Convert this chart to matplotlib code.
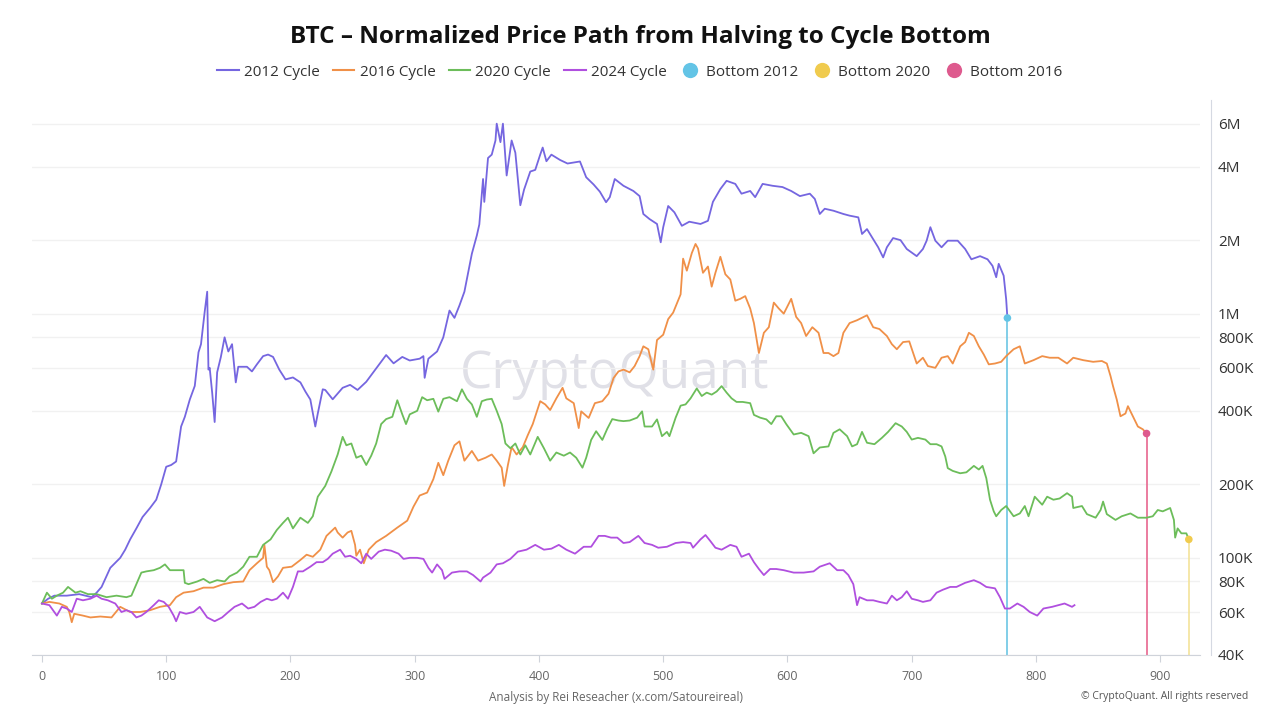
import matplotlib
matplotlib.use('Agg')
import matplotlib.pyplot as plt
from matplotlib.lines import Line2D
from matplotlib.ticker import FixedLocator, FixedFormatter, NullLocator

plt.rcParams['font.family'] = ['Open Sans', 'DejaVu Sans']

# days since halving / normalized price in K USD
days_2012 = [0, 5, 10, 20, 30, 40, 44, 48, 55, 63, 67, 71, 76, 81, 87, 92, 96, 100, 104, 108,
             112, 115, 119, 123, 126, 128, 131, 133, 134, 135, 137, 139, 141, 144, 147, 150, 153, 156, 158, 165,
             169, 173, 178, 182, 186, 191, 196, 202, 208, 212, 216, 220, 222, 226, 228, 234, 242, 248, 254, 261,
             268, 277, 283, 290, 296, 304, 307, 308, 311, 318, 323, 328, 332, 336, 340, 346, 350, 352, 355, 356,
             359, 362, 365, 366, 369, 371, 374, 378, 381, 383, 385, 388, 393, 397, 401, 403, 406, 410, 417, 423,
             433, 438, 444, 449, 454, 457, 461, 468, 476, 481, 484, 489, 495, 498, 500, 504, 509, 515, 521, 530,
             536, 540, 546, 551, 558, 563, 570, 574, 580, 588, 596, 603, 610, 618, 622, 626, 630, 637, 645, 650,
             657, 660, 664, 669, 673, 677, 680, 685, 691, 696, 704, 709, 712, 715, 719, 724, 729, 737, 743, 748,
             755, 761, 765, 768, 770, 774, 776, 777]
vals_2012 = [65, 68, 70, 70, 71, 69, 72, 76, 91, 100, 108, 119, 132, 147, 160, 173, 200, 236, 240, 248,
             345, 378, 445, 506, 695, 750, 1020, 1230, 590, 600, 475, 360, 575, 665, 800, 700, 750, 523, 606, 606,
             580, 620, 670, 680, 665, 590, 538, 548, 523, 480, 445, 345, 390, 490, 487, 446, 497, 511, 487, 526,
             587, 677, 626, 665, 643, 654, 670, 546, 654, 700, 800, 1030, 961, 1080, 1230, 1760, 2090, 2320, 3560, 2870,
             4340, 4480, 5120, 6000, 5040, 6000, 3680, 5120, 4560, 3560, 2780, 3220, 3820, 3880, 4480, 4790, 4210, 4480, 4260, 4120,
             4200, 3620, 3380, 3160, 2860, 3000, 3560, 3340, 3180, 3030, 2560, 2440, 2330, 1960, 2260, 2760, 2600, 2290, 2380, 2330,
             2400, 2870, 3240, 3500, 3400, 3100, 3180, 3000, 3400, 3340, 3300, 3180, 3030, 3100, 2950, 2560, 2690, 2640, 2560, 2520,
             2480, 2120, 2220, 2020, 1870, 1700, 1870, 2040, 2000, 1840, 1720, 1840, 1990, 2260, 1990, 1870, 1990, 1990, 1840, 1670,
             1720, 1670, 1570, 1410, 1600, 1430, 1146, 960]

days_2016 = [0, 6, 14, 20, 22, 24, 26, 33, 39, 47, 56, 63, 71, 79, 87, 95, 103, 108, 114, 122,
             130, 138, 146, 154, 162, 167, 173, 178, 179, 181, 183, 186, 190, 194, 201, 208, 213, 218, 224, 229,
             236, 238, 242, 246, 249, 252, 253, 256, 259, 263, 269, 277, 286, 294, 299, 304, 310, 315, 319, 323,
             327, 332, 336, 340, 346, 351, 357, 362, 366, 370, 372, 375, 378, 382, 387, 391, 395, 401, 405, 409,
             414, 419, 422, 428, 432, 434, 440, 445, 451, 456, 460, 464, 468, 473, 477, 481, 484, 488, 492, 495,
             500, 504, 508, 514, 516, 519, 523, 526, 528, 532, 536, 539, 542, 546, 550, 554, 558, 562, 566, 570,
             573, 577, 581, 585, 589, 593, 597, 603, 607, 611, 615, 620, 625, 629, 633, 637, 641, 645, 650, 656,
             664, 669, 674, 680, 684, 688, 693, 698, 704, 709, 713, 719, 724, 729, 733, 739, 743, 746, 750, 754,
             758, 762, 767, 772, 776, 782, 787, 791, 798, 805, 811, 818, 825, 830, 838, 846, 853, 857, 860, 862,
             865, 868, 872, 874, 878, 882, 886, 889]
vals_2016 = [65, 66, 65, 63, 60, 54.5, 59, 58, 57, 57.5, 57, 63, 60, 60, 61, 63, 64, 69, 72, 73,
             75.5, 75.5, 78, 79.5, 80, 89, 95, 100, 113, 92, 89, 79.5, 84, 91, 92, 98, 103, 101, 108, 123,
             133, 127, 121, 127, 129, 113, 102, 108, 95, 108, 116, 123, 133, 142, 162, 180, 185, 210, 245, 218,
             250, 289, 300, 250, 274, 250, 257, 265, 250, 234, 197, 240, 284, 265, 284, 318, 353, 438, 425, 403,
             450, 497, 450, 430, 340, 398, 374, 430, 438, 470, 545, 580, 590, 575, 610, 670, 735, 715, 590, 780,
             820, 950, 1010, 1200, 1680, 1500, 1770, 1930, 1850, 1470, 1560, 1290, 1470, 1710, 1450, 1380, 1130, 1150, 1180, 1050,
             915, 690, 835, 880, 1110, 1050, 1000, 1150, 970, 915, 810, 880, 835, 690, 690, 670, 690, 835, 915, 940,
             985, 880, 865, 810, 750, 715, 765, 770, 625, 660, 610, 600, 660, 670, 625, 735, 765, 835, 810, 735,
             680, 620, 625, 635, 670, 715, 735, 625, 645, 670, 660, 660, 625, 660, 645, 635, 640, 625, 555, 505,
             445, 380, 390, 418, 380, 345, 336, 323]

days_2020 = [0, 4, 8, 12, 17, 21, 27, 31, 37, 44, 52, 60, 68, 72, 76, 80, 84, 90, 95, 99,
             103, 108, 114, 115, 118, 125, 130, 135, 141, 147, 151, 157, 162, 167, 173, 178, 184, 189, 194, 198,
             202, 208, 214, 218, 222, 228, 233, 238, 242, 245, 249, 253, 257, 261, 265, 269, 273, 277, 282, 286,
             290, 293, 296, 302, 306, 310, 315, 319, 323, 328, 334, 338, 342, 346, 350, 354, 358, 362, 366, 370,
             373, 377, 381, 385, 389, 393, 399, 404, 409, 414, 420, 425, 430, 435, 438, 442, 446, 451, 455, 459,
             464, 468, 473, 479, 483, 485, 491, 495, 499, 503, 505, 510, 514, 518, 522, 527, 531, 535, 539, 543,
             547, 551, 555, 559, 564, 570, 573, 578, 583, 587, 591, 595, 599, 605, 611, 617, 621, 626, 633, 637,
             642, 648, 652, 656, 660, 664, 670, 676, 681, 687, 692, 696, 700, 705, 711, 715, 720, 724, 727, 729,
             733, 739, 744, 750, 754, 757, 760, 763, 766, 768, 772, 776, 782, 787, 791, 794, 799, 805, 809, 814,
             819, 825, 829, 830, 837, 841, 848, 852, 854, 857, 864, 869, 876, 882, 889, 894, 898, 902, 908, 911,
             912, 914, 917, 921, 923]
vals_2020 = [65, 72, 68, 70, 72, 76, 72, 73, 71, 71, 69, 70, 69, 70, 78, 87, 88, 89, 91, 94,
             89, 89, 89, 79, 78, 80, 82, 79, 81, 80, 84, 87, 92, 101, 101, 113, 119, 130, 139, 146,
             132, 146, 139, 148, 178, 197, 226, 265, 313, 289, 294, 257, 262, 240, 262, 294, 353, 370, 378, 442,
             387, 353, 387, 400, 455, 442, 448, 397, 448, 455, 438, 490, 448, 425, 378, 438, 445, 448, 400, 353,
             294, 281, 294, 265, 289, 265, 313, 281, 250, 270, 262, 270, 257, 234, 257, 304, 330, 304, 338, 370,
             365, 363, 365, 375, 398, 345, 345, 369, 315, 328, 315, 375, 420, 425, 450, 494, 460, 475, 466, 480,
             505, 475, 450, 435, 435, 430, 385, 375, 369, 353, 380, 380, 353, 320, 325, 315, 268, 283, 286, 325,
             336, 315, 286, 292, 328, 296, 292, 310, 328, 356, 345, 328, 305, 310, 305, 292, 292, 286, 260, 233,
             227, 222, 224, 238, 230, 238, 212, 173, 155, 148, 157, 163, 148, 152, 163, 148, 178, 165, 178, 173,
             175, 184, 178, 160, 163, 151, 146, 157, 170, 151, 143, 148, 152, 146, 146, 148, 157, 155, 160, 143,
             121, 132, 126, 126, 119]

days_2024 = [0, 6, 12, 16, 20, 24, 28, 33, 39, 44, 48, 53, 59, 64, 68, 72, 76, 80, 84, 90,
             94, 98, 102, 106, 108, 111, 116, 122, 127, 133, 139, 145, 150, 155, 161, 166, 171, 176, 181, 185,
             189, 194, 198, 202, 206, 210, 216, 221, 226, 230, 234, 240, 244, 248, 253, 257, 261, 265, 271, 276,
             281, 287, 291, 296, 302, 307, 311, 314, 318, 322, 324, 330, 336, 342, 347, 353, 355, 361, 366, 371,
             377, 383, 390, 397, 404, 410, 416, 422, 429, 436, 442, 448, 453, 458, 463, 468, 473, 480, 485, 491,
             496, 503, 510, 516, 522, 524, 530, 534, 538, 542, 547, 554, 559, 563, 569, 573, 577, 581, 586, 591,
             597, 605, 613, 621, 626, 634, 640, 645, 649, 653, 656, 658, 664, 669, 674, 680, 684, 688, 692, 696,
             700, 705, 709, 715, 720, 725, 731, 736, 743, 750, 755, 760, 767, 771, 775, 779, 785, 790, 795, 801,
             806, 813, 818, 823, 829, 831]
vals_2024 = [65, 64, 58, 63, 62, 60, 68, 67, 68, 70, 68, 67, 65, 60, 61, 60, 57, 58, 60, 64,
             67, 66, 63, 58, 55, 60, 59, 60, 63, 57, 55, 57, 60, 63, 65, 62, 63, 66, 68, 67,
             68, 72, 68, 76, 88, 88, 92, 96, 96, 99, 104, 108, 101, 102, 99, 95, 104, 99, 106, 108,
             107, 104, 99, 100, 100, 99, 91, 87, 94, 89, 82, 87, 88, 88, 85, 80, 83, 87, 94, 95,
             99, 106, 108, 113, 108, 109, 113, 108, 104, 111, 111, 123, 123, 121, 121, 115, 116, 123, 115, 113,
             110, 111, 115, 116, 115, 110, 119, 124, 117, 110, 108, 113, 111, 101, 104, 96, 90, 85, 90, 90,
             89, 87, 87, 88, 92, 95, 89, 89, 85, 78, 64, 69, 67, 67, 66, 65, 70, 67, 69, 73,
             68, 67, 66, 67, 72, 74, 76, 76, 79, 81, 79, 76, 75, 69, 62, 62, 65, 63, 60, 58,
             62, 63, 64, 65, 63, 64]

cycle_labels = ['2012 Cycle', '2016 Cycle', '2020 Cycle', '2024 Cycle']
cycle_colors = ['#7566e0', '#f09048', '#6cbd5a', '#b04fdf']

bottom_labels = ['Bottom 2012', 'Bottom 2020', 'Bottom 2016']
bottom_days = [777, 923, 889]
bottom_vals = [960, 119, 323]
bottom_colors = ['#63c4e6', '#f0cb4e', '#de5a8e']
bottom_line_colors = ['#6cc6e4', '#f3e39a', '#e8668f']

y_ticks = [40, 60, 80, 100, 200, 400, 600, 800, 1000, 2000, 4000, 6000]
y_tick_labels = ['40K', '60K', '80K', '100K', '200K', '400K', '600K', '800K', '1M', '2M', '4M', '6M']
x_ticks = [0, 100, 200, 300, 400, 500, 600, 700, 800, 900]

fig = plt.figure(figsize=(12.8, 7.2), dpi=100)
ax = fig.add_axes([32 / 1280, 1 - 655 / 720, 1168 / 1280, 555 / 720])

series = [(days_2012, vals_2012), (days_2016, vals_2016), (days_2020, vals_2020), (days_2024, vals_2024)]
for (d, v), c in zip(series, cycle_colors):
    ax.plot(d, [x * 1000 for x in v], color=c, lw=1.3, zorder=3)

# drop lines + bottom markers
for d, v, c, lc in zip(bottom_days, bottom_vals, bottom_colors, bottom_line_colors):
    ax.vlines(d, 40000, v * 1000, color=lc, lw=1.2, zorder=2)
    ax.scatter([d], [v * 1000], s=30, color=c, zorder=5, edgecolors='none')

ax.set_yscale('log')
ax.set_ylim(40000, 7.5e6)
ax.set_xlim(-8, 932)

ax.yaxis.tick_right()
ax.yaxis.set_major_locator(FixedLocator([t * 1000 for t in y_ticks]))
ax.yaxis.set_major_formatter(FixedFormatter(y_tick_labels))
ax.yaxis.set_minor_locator(NullLocator())
ax.tick_params(axis='y', length=0, pad=5, labelsize=11, labelcolor='#333333')
ax.set_xticks(x_ticks)
ax.tick_params(axis='x', length=5, color='#cfd3da', labelsize=9, labelcolor='#666666', pad=6)
ax.grid(axis='y', color='#f1f1f1', lw=1, zorder=0)

for s in ['top', 'left']:
    ax.spines[s].set_visible(False)
ax.spines['bottom'].set_color('#cfd3da')
ax.spines['right'].set_color('#d5d9e2')
ax.spines['right'].set_position(('outward', 8))

ax.text(0.499, 0.505, 'CryptoQuant', transform=ax.transAxes, ha='center', va='center',
        fontsize=37, color='#e0e0e7', zorder=1)

fig.text(0.5, 1 - 37 / 720, 'BTC – Normalized Price Path from Halving to Cycle Bottom',
         ha='center', va='center', fontsize=17.5, fontweight='bold', color='#111111')

handles = [Line2D([0], [0], color=c, lw=1.5) for c in cycle_colors]
handles += [Line2D([0], [0], marker='o', color='none', markerfacecolor=c, markeredgecolor='none',
                   markersize=11) for c in bottom_colors]
fig.legend(handles, cycle_labels + bottom_labels, loc='center', bbox_to_anchor=(0.5, 1 - 72 / 720),
           ncol=7, frameon=False, fontsize=11, handlelength=1.4, handletextpad=0.35, columnspacing=0.85,
           labelcolor='#333333')

fig.text(616 / 1280, 1 - 697 / 720, 'Analysis by Rei Reseacher (x.com/Satoureireal)',
         ha='center', va='center', fontsize=8.5, color='#666666')
fig.text(1248 / 1280, 1 - 697 / 720, '© CryptoQuant. All rights reserved',
         ha='right', va='center', fontsize=7.5, color='#555555')

fig.savefig('out.png', dpi=100)
